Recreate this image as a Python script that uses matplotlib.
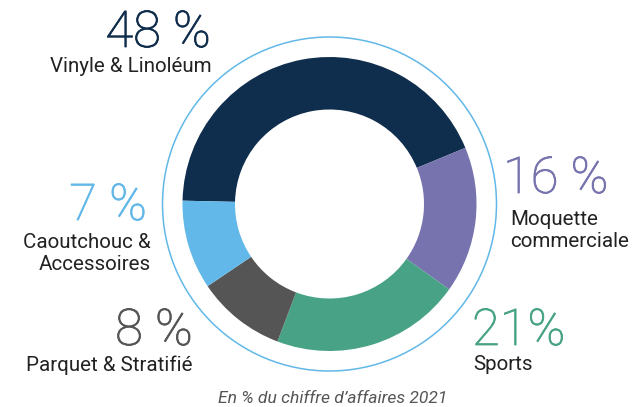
import matplotlib
matplotlib.use('Agg')
import matplotlib.pyplot as plt
import matplotlib.patheffects as pe
from matplotlib.patches import Circle

# segments, clockwise from the left edge (shares as drawn in the ring)
segments = ['Vinyle & Linoléum', 'Moquette\ncommerciale', 'Sports',
            'Parquet & Stratifié', 'Caoutchouc &\nAccessoires']
shares = [43.4, 16.1, 20.9, 9.8, 9.8]
pct_labels = ['48 %', '16 %', '21%', '8 %', '7 %']
colors = ['#0f2d4c', '#7673ae', '#48a386', '#555555', '#62b8e8']
caption = 'En % du chiffre d\u2019affaires 2021'

W, H = 638, 407
fig = plt.figure(figsize=(W / 100, H / 100), dpi=100)
ax = fig.add_axes([0, 0, 1, 1])

cx, cy = 329.5, H - 204
ax.pie(shares, colors=colors, startangle=178.7, counterclock=False,
       center=(cx, cy), radius=147, frame=True,
       wedgeprops=dict(width=52.5, linewidth=0))
ax.add_patch(Circle((cx, cy), 167, fill=False, ec='#62b8e8', lw=1.1))

ax.set_xlim(0, W)
ax.set_ylim(0, H)
ax.set_aspect('equal')
ax.axis('off')

# pixel coords from top-left: pct baseline, name last-line baseline, alignment
spots = [
    ((211, 47), (212, 72), 'right'),
    ((503, 193), (510, 247), 'left'),
    ((472, 345), (473, 370), 'left'),
    ((193, 345), (193, 371), 'right'),
    ((147, 220), (151, 270), 'right'),
]
for name, pct, col, (p_xy, n_xy, ha) in zip(segments, pct_labels, colors, spots):
    # thin face thickened a little to look like a light weight
    ax.text(p_xy[0], H - p_xy[1], pct, ha=ha, va='baseline', color=col,
            fontsize=36.5, family='Roboto', fontweight='light',
            path_effects=[pe.Stroke(linewidth=0.6, foreground=col), pe.Normal()])
    ax.text(n_xy[0], H - n_xy[1], name, ha=ha, va='baseline',
            color='#222222', fontsize=14.8, family='Roboto',
            linespacing=1.2, multialignment=ha)

ax.text(333, H - 403, caption, ha='center', va='baseline', color='#555555',
        fontsize=12.6, family='Roboto', style='italic')

fig.savefig('out.png', dpi=100)
